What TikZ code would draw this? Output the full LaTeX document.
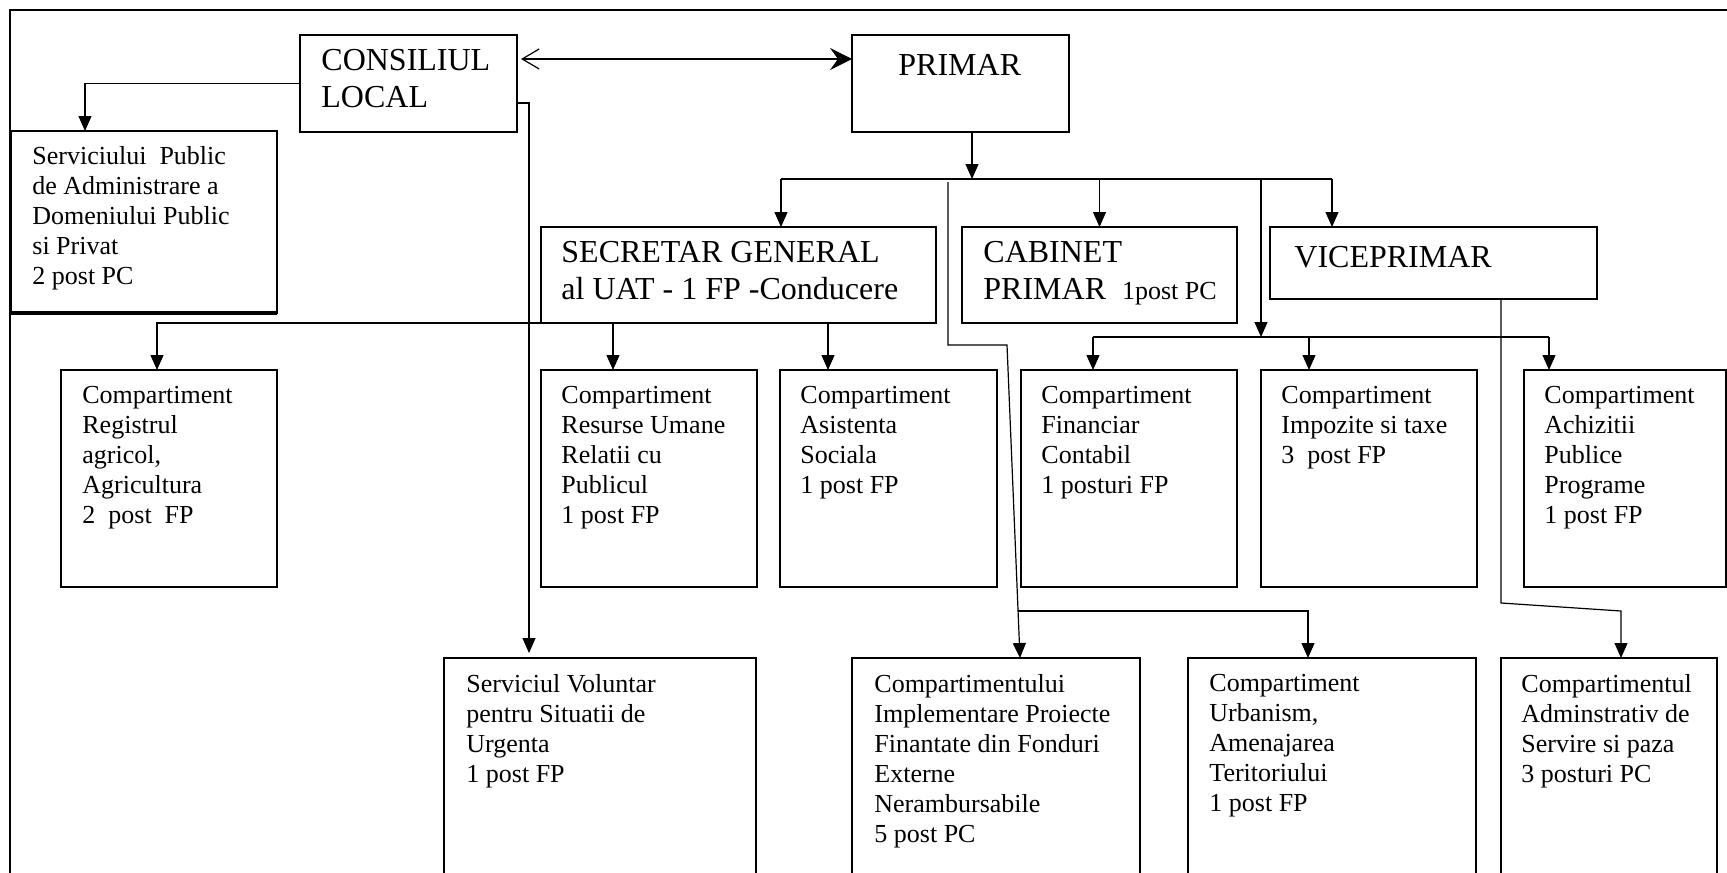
\documentclass[tikz,border=0pt]{standalone}
\usepackage{fontspec}
\setmainfont{Liberation Serif}
\usetikzlibrary{arrows.meta,calc}

\begin{document}
\begin{tikzpicture}[
  x=0.5pt, y=-0.5pt,
  box/.style={draw, line width=0.8pt, anchor=north west, inner sep=0pt, outer sep=0pt},
  big/.style={anchor=north west, align=left, inner sep=0pt, font=\fontsize{16}{18.3}\selectfont,
    execute at begin node={\strut}},
  small/.style={anchor=north west, align=left, inner sep=0pt, font=\fontsize{13}{15}\selectfont,
    execute at begin node={\strut}},
  link/.style={line width=0.6pt},
  arr/.style={line width=0.6pt, -{Triangle[length=7.5pt,width=6.5pt]}}
]
\useasboundingbox (0,0) rectangle (1727,872);

% outer frame
\draw[line width=1pt] (10,900) -- (10,10) -- (1760,10);

% top level
\node[box, minimum width=108.5pt, minimum height=48.5pt] (consiliu) at (300,35) {};
\node[big] (consiliu-t) at ($(consiliu.north west)+(21,14)$) {CONSILIUL\\LOCAL};
\node[box, minimum width=108.5pt, minimum height=48.5pt] (primar) at (852,35) {};
\node[big] (primar-t) at ($(primar.north west)+(46,14)$) {PRIMAR};

\node[box, minimum width=133pt, minimum height=91pt] (serviciu) at (11,131) {};
\draw[line width=1.6pt] (serviciu.south west) -- (serviciu.south east);
\node[small] (serviciu-t) at ($(serviciu.north west)+(21,15)$)
  {Serviciului\ \ Public\\de Administrare a\\Domeniului Public\\si Privat\\2 post PC};

% second level
\node[box, minimum width=197.5pt, minimum height=48pt] (secretar) at (541,227) {};
\node[big] (secretar-t) at ($(secretar.north west)+(20,14)$) {SECRETAR GENERAL\\al UAT - 1 FP -Conducere};
\node[box, minimum width=137.5pt, minimum height=48pt] (cabinet) at (962,227) {};
\node[big] (cabinet-t) at ($(cabinet.north west)+(21,14)$)
  {CABINET\\PRIMAR\ \ {\fontsize{13}{15}\selectfont 1post PC}};
\node[box, minimum width=163.5pt, minimum height=36pt] (vice) at (1270,227) {};
\node[big] (vice-t) at ($(vice.north west)+(24,14)$) {VICEPRIMAR};

% compartimente, first row
\node[box, minimum width=108pt, minimum height=108.5pt] (registru) at (61,370) {};
\node[small] (registru-t) at ($(registru.north west)+(21,16)$)
  {Compartiment\\Registrul\\agricol,\\Agricultura\\2\ \ post\ \ FP};
\node[box, minimum width=108pt, minimum height=108.5pt] (resurse) at (541,370) {};
\node[small] (resurse-t) at ($(resurse.north west)+(20,16)$)
  {Compartiment\\Resurse Umane\\Relatii cu\\Publicul\\1 post FP};
\node[box, minimum width=108.5pt, minimum height=108.5pt] (asistenta) at (780,370) {};
\node[small] (asistenta-t) at ($(asistenta.north west)+(20,16)$)
  {Compartiment\\Asistenta\\Sociala\\1 post FP};
\node[box, minimum width=108pt, minimum height=108.5pt] (financiar) at (1021,370) {};
\node[small] (financiar-t) at ($(financiar.north west)+(20,16)$)
  {Compartiment\\Financiar\\Contabil\\1 posturi FP};
\node[box, minimum width=108pt, minimum height=108.5pt] (impozite) at (1261,370) {};
\node[small] (impozite-t) at ($(impozite.north west)+(20,16)$)
  {Compartiment\\Impozite si taxe\\3\ \ post FP};
\node[box, minimum width=101pt, minimum height=108.5pt] (achizitii) at (1524,370) {};
\node[small] (achizitii-t) at ($(achizitii.north west)+(20,16)$)
  {Compartiment\\Achizitii\\Publice\\Programe\\1 post FP};

% compartimente, second row
\node[box, minimum width=156pt, minimum height=120pt] (voluntar) at (444,658) {};
\node[small] (voluntar-t) at ($(voluntar.north west)+(22,16)$)
  {Serviciul Voluntar\\pentru Situatii de\\Urgenta\\1 post FP};
\node[box, minimum width=144pt, minimum height=120pt] (implementare) at (852,658) {};
\node[small] (implementare-t) at ($(implementare.north west)+(22,16)$)
  {Compartimentului\\Implementare Proiecte\\Finantate din Fonduri\\Externe\\Nerambursabile\\5 post PC};
\node[box, minimum width=144pt, minimum height=120pt] (urbanism) at (1188,658) {};
\node[small] (urbanism-t) at ($(urbanism.north west)+(21,16)$)
  {Compartiment\\Urbanism,\\Amenajarea\\Teritoriului\\1 post FP};
\node[box, minimum width=108pt, minimum height=120pt] (administrativ) at (1501,658) {};
\node[small] (administrativ-t) at ($(administrativ.north west)+(20,16)$)
  {Compartimentul\\Adminstrativ de\\Servire si paza\\3 posturi PC};

% consiliu
\draw[link, {Straight Barb[length=8.5pt,width=10pt]}-{Stealth[length=11pt,width=11pt,inset=4pt]}]
  ($(consiliu.north east)+(4,24)$) -- ($(primar.north west)+(0,24)$);
\draw[arr] (consiliu.west) -| ($(serviciu.north west)+(74,0)$);
\draw[arr] ($(consiliu.north east)+(0,68)$) -| ($(voluntar.north west)+(85,-5)$);

% primar bus
\coordinate (busA) at (781,179);
\coordinate (busB) at (1332,179);
\coordinate (busM) at (972,179);
\coordinate (busC) at (1261,179);
\draw[arr] (primar.south -| busM) -- (busM);
\draw[link] (busA) -- (busB);
\draw[arr] (busA) -- (busA |- secretar.north);
\draw[arr] (cabinet.north |- busA) -- (cabinet.north);
\draw[arr] (busB) -- (busB |- vice.north);

% secretar bus
\draw[arr] (secretar.south west) -| ($(registru.north west)+(96,0)$);
\draw[arr] ($(secretar.south west)+(72,0)$) -- ($(resurse.north west)+(72,0)$);
\draw[arr] ($(secretar.south west)+(287,0)$) -- ($(asistenta.north west)+(48,0)$);

% proiecte, urbanism
\coordinate (implA) at (948,182);
\draw[arr] (implA) |- ++(59,163) coordinate (implB) -- ($(implementare.north west)+(168,0)$);
\coordinate (urbA) at (1018,611);
\draw[arr] (urbA) -| ($(urbanism.north west)+(120,0)$);

% financiar bus
\coordinate (bus2A) at (1093,337);
\coordinate (bus2B) at (1549,337);
\draw[arr] (busC) -- (busC |- bus2A);
\draw[link] (bus2A) -- (bus2B);
\draw[arr] (bus2A) -- (bus2A |- financiar.north);
\draw[arr] ($(impozite.north west)+(48,-33)$) -- ($(impozite.north west)+(48,0)$);
\draw[arr] (bus2B) -- (bus2B |- achizitii.north);

% viceprimar
\draw[arr] ($(vice.south west)+(231,0)$) -- ++(0,304) -- ($(administrativ.north west)+(120,-47)$)
  -- ($(administrativ.north west)+(120,0)$);
\end{tikzpicture}
\end{document}
